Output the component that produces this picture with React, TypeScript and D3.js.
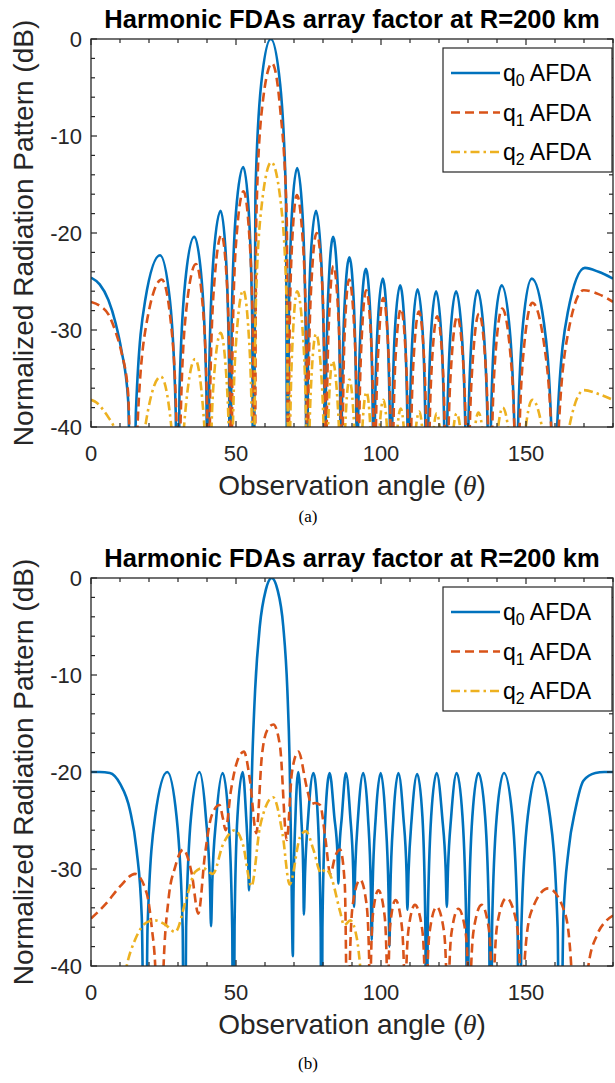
import * as d3 from 'd3';

const angleTicks = [0, 50, 100, 150];
const dbTicks = [0, -10, -20, -30, -40];
const legendNames = ['0', '1', '2'];
const title = 'Harmonic FDAs array factor at R=200 km';

const q0A = [
  [0,-24.6],[3,-25.3],[6,-26.9],[8.5,-29.3],[10.5,-32.1],[12.8,-37.2],[14.5,-60],
  [15.5,-38.3],[18.7,-26.9],[23.8,-22.3],[27.2,-26.9],[29.2,-38.3],[29.9,-60],
  [30.5,-36.4],[32.5,-25.0],[35.6,-20.4],[38.2,-25.0],[39.8,-36.4],[40.3,-60],
  [40.8,-33.7],[42.3,-22.3],[44.7,-17.7],[46.5,-22.3],[47.6,-33.7],[48.0,-60],
  [48.5,-29.2],[50.0,-17.8],[52.5,-13.2],[54.4,-17.8],[55.6,-29.2],[56.0,-60],
  [56.7,-16],[58.7,-4.6],[62.0,0],[65.2,-4.6],[67.2,-16],[67.8,-60],
  [68.2,-29.3],[69.3,-17.9],[71.1,-13.3],[72.9,-17.9],[74.0,-29.3],[74.4,-60],
  [74.8,-33.7],[75.8,-22.3],[77.6,-17.7],[79.3,-22.3],[80.4,-33.7],[80.7,-60],
  [81.0,-36.4],[82.0,-25.0],[83.5,-20.4],[85.0,-25.0],[85.9,-36.4],[86.2,-60],
  [86.5,-38.5],[87.5,-27.1],[89.1,-22.5],[90.6,-27.1],[91.5,-38.5],[91.8,-60],
  [92.1,-39.7],[93.2,-28.3],[94.8,-23.7],[96.3,-28.3],[97.2,-39.7],[97.5,-60],
  [97.8,-40.7],[98.9,-29.3],[100.6,-24.7],[102.1,-29.3],[103.1,-40.7],[103.4,-60],
  [103.8,-41.4],[104.8,-30.0],[106.6,-25.4],[108.2,-30.0],[109.2,-41.4],[109.5,-60],
  [109.8,-41.8],[110.9,-30.4],[112.6,-25.8],[114.4,-30.4],[115.4,-41.8],[115.8,-60],
  [116.2,-42.0],[117.2,-30.6],[119.0,-26.0],[120.8,-30.6],[121.9,-42.0],[122.3,-60],
  [122.7,-42.0],[123.9,-30.6],[125.9,-26.0],[127.9,-30.6],[129.2,-42.0],[129.6,-60],
  [130.0,-41.9],[131.3,-30.5],[133.3,-25.9],[135.5,-30.5],[136.9,-41.9],[137.3,-60],
  [137.8,-41.4],[139.2,-30.0],[141.6,-25.4],[144.4,-30.0],[146.1,-41.4],[146.6,-60],
  [147.2,-40.7],[149.0,-29.3],[152.0,-24.7],[156.2,-29.3],[158.8,-40.7],[159.6,-60],
  [160.8,-39.6],[164.4,-28.2],[170.3,-23.6],[175,-24.0],[180,-24.7],
];

const q1A = [
  [0,-27.1],[3,-27.5],[6,-28.4],[8.5,-30.2],[10.5,-32.3],[12.8,-36.5],[14.8,-60],
  [15.9,-40.8],[19.1,-29.4],[24.4,-24.8],[27.6,-29.4],[29.6,-40.8],[30.2,-60],
  [30.9,-39.2],[32.9,-27.8],[36.2,-23.2],[38.6,-27.8],[40.1,-39.2],[40.6,-60],
  [41.1,-36.2],[42.6,-24.8],[45.0,-20.2],[46.8,-24.8],[47.9,-36.2],[48.3,-60],
  [48.8,-31.7],[50.2,-20.3],[52.6,-15.7],[54.6,-20.3],[55.9,-31.7],[56.3,-60],
  [57.0,-18.5],[59.0,-7.1],[62.4,-2.5],[65.2,-7.1],[67.5,-18.5],[68.1,-60],
  [68.4,-32.1],[69.4,-20.7],[71.0,-16.1],[73.0,-20.7],[74.3,-32.1],[74.7,-60],
  [75.0,-36],[76.1,-24.6],[77.8,-20],[79.6,-24.6],[80.6,-36],[81.0,-60],
  [81.3,-39.4],[82.2,-28.0],[83.6,-23.4],[85.2,-28.0],[86.2,-39.4],[86.5,-60],
  [86.8,-40.8],[87.6,-29.4],[89.0,-24.8],[90.7,-29.4],[91.8,-40.8],[92.1,-60],
  [92.4,-41.9],[93.4,-30.5],[94.9,-25.9],[96.5,-30.5],[97.5,-41.9],[97.8,-60],
  [98.1,-42.7],[99.2,-31.3],[100.8,-26.7],[102.4,-31.3],[103.4,-42.7],[103.7,-60],
  [104.1,-43.8],[105.1,-32.4],[106.9,-27.8],[108.5,-32.4],[109.5,-43.8],[109.8,-60],
  [110.2,-44.1],[111.3,-32.7],[113.1,-28.1],[114.8,-32.7],[115.8,-44.1],[116.1,-60],
  [116.5,-44.6],[117.6,-33.2],[119.4,-28.6],[121.2,-33.2],[122.2,-44.6],[122.6,-60],
  [123.0,-44.6],[124.3,-33.2],[126.3,-28.6],[128.3,-33.2],[129.5,-44.6],[129.9,-60],
  [130.3,-44.3],[131.7,-32.9],[133.8,-28.3],[135.9,-32.9],[137.2,-44.3],[137.6,-60],
  [138.1,-43.8],[139.5,-32.4],[141.8,-27.8],[144.6,-32.4],[146.3,-43.8],[146.9,-60],
  [147.5,-43.2],[149.3,-31.8],[152.2,-27.2],[156.4,-31.8],[159.1,-43.2],[159.9,-60],
  [161.0,-41.9],[164.4,-30.5],[169.9,-25.9],[175,-26.3],[180,-27.1],
];

const q2A = [
  [0,-37.2],[2,-37.5],[4.1,-38.2],[6,-39],[8.2,-40.3],[11,-45],[14.8,-60],
  [15.8,-50.8],[19.0,-39.4],[24.1,-34.8],[27.5,-39.4],[29.5,-50.8],[30.2,-60],
  [30.8,-49],[32.8,-37.6],[35.9,-33],[38.5,-37.6],[40.1,-49],[40.6,-60],
  [41.1,-46.3],[42.4,-34.9],[44.7,-30.3],[46.7,-34.9],[47.9,-46.3],[48.3,-60],
  [48.8,-41.9],[50.2,-30.5],[52.5,-25.9],[54.4,-30.5],[55.6,-41.9],[56.0,-60],
  [56.7,-28.7],[58.8,-17.3],[62.2,-12.7],[65.6,-17.3],[67.6,-28.7],[68.3,-60],
  [68.6,-42],[69.6,-30.6],[71.1,-26],[73.1,-30.6],[74.3,-42],[74.7,-60],
  [75.0,-46.4],[76.0,-35.0],[77.6,-30.4],[79.5,-35.0],[80.6,-46.4],[81.0,-60],
  [81.3,-49.2],[82.0,-37.8],[83.3,-33.2],[85.1,-37.8],[86.2,-49.2],[86.5,-60],
  [86.8,-51.1],[87.7,-39.7],[89.1,-35.1],[90.7,-39.7],[91.8,-51.1],[92.1,-60],
  [92.4,-52.4],[93.4,-41.0],[95.0,-36.4],[96.5,-41.0],[97.5,-52.4],[97.8,-60],
  [98.1,-53.2],[99.2,-41.8],[100.8,-37.2],[102.4,-41.8],[103.4,-53.2],[103.7,-60],
  [104.0,-54.1],[105.1,-42.7],[106.8,-38.1],[108.4,-42.7],[109.5,-54.1],[109.8,-60],
  [110.2,-54.4],[111.3,-43],[113.2,-38.4],[114.8,-43],[115.8,-54.4],[116.1,-60],
  [116.4,-54.6],[117.5,-43.2],[119.2,-38.6],[121.1,-43.2],[122.2,-54.6],[122.6,-60],
  [123.0,-54.6],[124.2,-43.2],[126.1,-38.6],[128.2,-43.2],[129.5,-54.6],[129.9,-60],
  [130.3,-54.5],[131.6,-43.1],[133.6,-38.5],[135.8,-43.1],[137.2,-54.5],[137.6,-60],
  [138.1,-54],[139.6,-42.6],[142.0,-38],[144.7,-42.6],[146.4,-54],[146.9,-60],
  [147.5,-53.2],[149.3,-41.8],[152.2,-37.2],[156.4,-41.8],[159.1,-53.2],[159.9,-60],
  [161.0,-52.2],[164.4,-40.8],[170.0,-36.2],[175,-36.6],[180,-37.2],
];

const q0B = [
  [0,-20],[3,-20],[6.5,-20.1],[10,-21.2],[13.4,-23.9],[15.7,-28],[17.5,-34.9],[18.7,-60],
  [19.5,-36],[22.1,-24.6],[26.3,-20],[29.5,-24.6],[31.6,-36],[32.2,-60],
  [32.8,-36],[34.5,-24.6],[37.4,-20],[39.6,-24.6],[41.0,-31.5],[41.4,-35.9],
  [41.8,-31.5],[43.2,-24.7],[45.4,-20.1],[47.4,-24.7],[48.7,-36.1],[49.1,-60],
  [49.5,-36],[50.5,-24.6],[52.3,-20],[53.5,-24.6],[54.2,-29],[54.5,-32.2],
  [55.0,-26],[55.6,-19],[56.6,-11.5],[58.2,-5],[60.3,-1.2],[62.3,0],[64.3,-1.2],[66.3,-5],
  [67.7,-11.5],[68.5,-19],[69.1,-30],[69.6,-39],
  [69.8,-33],[70.5,-24.6],[71.5,-20],[72.5,-24.6],[73.2,-30.5],[73.4,-34.7],
  [73.8,-30.5],[74.9,-24.6],[76.7,-20.1],[78.2,-24.6],[79.2,-36],[79.5,-60],
  [79.8,-36],[80.8,-24.6],[82.3,-20.1],[83.9,-24.6],[85.0,-28.5],[85.3,-31.5],
  [85.6,-28.5],[86.5,-24.6],[87.9,-20.1],[89.4,-24.6],[90.4,-30],[90.7,-33.9],
  [91.1,-30],[92.1,-24.6],[93.9,-20.1],[95.5,-24.6],[96.5,-32],[96.8,-37.3],
  [97.1,-32],[98.2,-24.6],[99.9,-20.1],[101.5,-24.6],[102.6,-32.5],[102.9,-38],
  [103.2,-32.5],[104.3,-24.6],[106.0,-20.1],[107.7,-24.6],[108.8,-30.3],[109.1,-34.2],
  [109.5,-30.3],[110.6,-24.7],[112.5,-20.2],[114.3,-24.7],[115.3,-36],[115.7,-60],
  [116.1,-36],[117.3,-24.6],[119.2,-20.1],[121.1,-24.6],[122.3,-30],[122.7,-33.9],
  [123.1,-30],[124.2,-24.6],[126.1,-20.1],[128.1,-24.6],[129.4,-36],[129.8,-60],
  [130.2,-36],[131.5,-24.6],[133.6,-20.1],[135.9,-24.6],[137.3,-36],[137.8,-60],
  [138.3,-36],[139.9,-24.6],[142.4,-20.1],[145.3,-24.6],[147.1,-36],[147.7,-60],
  [148.4,-36],[150.6,-24.6],[154.2,-20],[158.3,-24.6],[160.9,-36],[161.7,-60],
  [162.9,-34.9],[164.7,-28],[167,-23.9],[169.8,-20.9],[173.9,-20.1],[177,-20],[180,-20],
];

const q1B = [
  [0,-35.1],[5.4,-33.5],[10,-31.8],[15.2,-30.5],[19.2,-32.5],[20.9,-35.9],[22.3,-41],[23.6,-60],
  [24.9,-41],[26.7,-33.2],[29,-29.8],[31.8,-28],[34.7,-30.4],[37.0,-34.6],[39.3,-28.5],
  [41.6,-24.5],[44.3,-23.4],[45.5,-24.8],[46.4,-26],[48.2,-22],[50.3,-19],[52.7,-17.9],
  [54.8,-20.8],[57.0,-26.3],[58.9,-18.4],[60.9,-15.6],[62.9,-15.1],[65.2,-17.4],[67.5,-27],
  [69.3,-20],[71.5,-17.9],[74.4,-21.6],[76.0,-23.3],[77.2,-23.2],[79.0,-23.4],[80.8,-26.8],
  [82.5,-30.5],[84.3,-28.6],[85.9,-28],[87.5,-31.5],[88.9,-60],
  [89.3,-39.1],[90.3,-33.6],[92.8,-31.1],[95.0,-33.6],[95.9,-39.1],[96.2,-60],
  [96.5,-40.2],[97.2,-34.7],[99.1,-32.2],[101.2,-34.7],[102.0,-40.2],[102.3,-60],
  [102.6,-41.2],[103.2,-35.7],[105,-33.2],[107.1,-35.7],[108.0,-41.2],[108.3,-60],
  [108.6,-41.7],[109.5,-36.2],[111.7,-33.7],[114.2,-36.2],[115.1,-41.7],[115.5,-60],
  [115.9,-41.9],[116.8,-36.4],[119.2,-33.9],[121.7,-36.4],[122.6,-41.9],[123.0,-60],
  [123.4,-42.1],[124.3,-36.6],[126.7,-34.1],[129.2,-36.6],[130.1,-42.1],[130.5,-60],
  [130.9,-41.7],[132.0,-36.2],[134.7,-33.7],[137.2,-36.2],[138.1,-41.7],[138.5,-60],
  [139.0,-41],[140.2,-35.5],[143.3,-33],[146.7,-35.5],[148.0,-41],[148.5,-60],
  [149.4,-40],[151.7,-34.5],[157.7,-32],[163.4,-34.5],[165.6,-40],[166.5,-60],
  [168,-55],[171.5,-40],[174.5,-36.8],[177.8,-35.3],[180,-34.8],
];

const q2B = [
  [0,-55],[6,-50],[10,-44],[12.3,-40],[15.2,-37.3],[19.2,-35.5],[22.1,-35.3],[25.5,-35.7],
  [29.0,-36.5],[33,-32.9],[35.9,-30.3],[38.5,-29.9],[42,-30.5],[45.6,-27.4],[49.6,-26.0],
  [52.5,-27.6],[55.3,-31.8],[58.3,-25.6],[62.8,-22.6],[66.1,-26.5],[68.5,-31.6],[72.1,-26.7],
  [74.1,-26.1],[76.7,-28.0],[79.3,-30.4],[81.0,-30.0],[83.0,-31.0],[85.9,-34.4],[87.3,-35.8],
  [89.4,-35.3],[91.7,-37.2],[92.8,-40],[94,-45],[96,-55],
];

const colors = ['#0072BD', '#D95319', '#EDB120'];
const dashes = [null, '9 5', '9 4 2.5 4'];
const font = '"Liberation Sans", Arial, Helvetica, sans-serif';
const serif = '"Liberation Serif", "Times New Roman", serif';
const ink = '#262626';

const left = 91;
const right = 613;

function Panel({ top, bottom, data, caption, captionGap }) {
  const x = d3.scaleLinear().domain([0, 180]).range([left, right]);
  const y = d3.scaleLinear().domain([-40, 0]).range([bottom, top]);
  const line = d3
    .line()
    .x((d) => x(d[0]))
    .y((d) => y(d[1]))
    .curve(d3.curveMonotoneX);
  const clipId = 'clip-' + caption;
  const minorX = d3.range(0, 181, 10);
  const minorY = d3.range(-40, 0.1, 2);
  const lx = 443;
  const ly = top + 9;

  return (
    <g>
      <defs>
        <clipPath id={clipId}>
          <rect x={left} y={top} width={right - left} height={bottom - top} />
        </clipPath>
      </defs>
      <text x={(left + right) / 2} y={top - 11} textAnchor="middle" fontFamily={font}
        fontWeight="bold" fontSize={25.5} fill="#000">{title}</text>

      <g clipPath={`url(#${clipId})`}>
        {data.map((s, i) => (
          <path key={i} d={line(s)} fill="none" stroke={colors[i]} strokeWidth={2.6}
            strokeDasharray={dashes[i] || undefined} />
        ))}
      </g>

      {/* box + inward ticks on all four sides */}
      <rect x={left} y={top} width={right - left} height={bottom - top} fill="none"
        stroke={ink} strokeWidth={1.3} />
      {minorX.map((t) => {
        const len = angleTicks.includes(t) ? 6 : 4;
        return (
          <g key={'x' + t} stroke={ink} strokeWidth={1.2}>
            <line x1={x(t)} x2={x(t)} y1={bottom} y2={bottom - len} />
            <line x1={x(t)} x2={x(t)} y1={top} y2={top + len} />
          </g>
        );
      })}
      {minorY.map((t) => {
        const len = t % 10 === 0 ? 6 : 4;
        return (
          <g key={'y' + t} stroke={ink} strokeWidth={1.2}>
            <line x1={left} x2={left + len} y1={y(t)} y2={y(t)} />
            <line x1={right} x2={right - len} y1={y(t)} y2={y(t)} />
          </g>
        );
      })}
      {angleTicks.map((t) => (
        <text key={'xl' + t} x={x(t)} y={bottom + 34} textAnchor="middle" fontFamily={font}
          fontSize={22} fill={ink}>{t}</text>
      ))}
      {dbTicks.map((t) => (
        <text key={'yl' + t} x={left - 9} y={y(t) + 8} textAnchor="end" fontFamily={font}
          fontSize={22} fill={ink}>{t}</text>
      ))}

      <text x={(left + right) / 2} y={bottom + 68} textAnchor="middle" fontFamily={font}
        fontSize={28} fill={ink}>
        Observation angle (
        <tspan fontFamily={serif} fontStyle="italic">θ</tspan>)
      </text>
      <text transform={`translate(33,${(top + bottom) / 2}) rotate(-90)`} textAnchor="middle"
        fontFamily={font} fontSize={28} fill={ink}>Normalized Radiation Pattern (dB)</text>

      {/* legend */}
      <rect x={lx} y={ly} width={169} height={124} fill="#fff" stroke={ink} strokeWidth={1.2} />
      {legendNames.map((n, i) => {
        const cy = ly + 25 + i * 39.5;
        return (
          <g key={n}>
            <line x1={lx + 8} x2={lx + 57} y1={cy} y2={cy} stroke={colors[i]} strokeWidth={2.6}
              strokeDasharray={dashes[i] || undefined} />
            <text x={lx + 60} y={cy + 8} fontFamily={font} fontSize={23} fill="#000">
              q<tspan fontSize={16} dy={5}>{n}</tspan>
              <tspan dy={-5}> AFDA</tspan>
            </text>
          </g>
        );
      })}

      <text x={308} y={bottom + captionGap} textAnchor="middle" fontFamily={serif}
        fontSize={17} fill="#000">
        ({caption})
      </text>
    </g>
  );
}

export default function App() {
  return (
    <svg width={615} height={1083} viewBox="0 0 615 1083"
      style={{ position: 'absolute', left: 0, top: 0, background: '#fff' }}>
      <rect width={615} height={1083} fill="#fff" />
      <Panel top={39} bottom={427} data={[q0A, q1A, q2A]} caption="a" captionGap={95} />
      <Panel top={578} bottom={966} data={[q0B, q1B, q2B]} caption="b" captionGap={103} />
    </svg>
  );
}
